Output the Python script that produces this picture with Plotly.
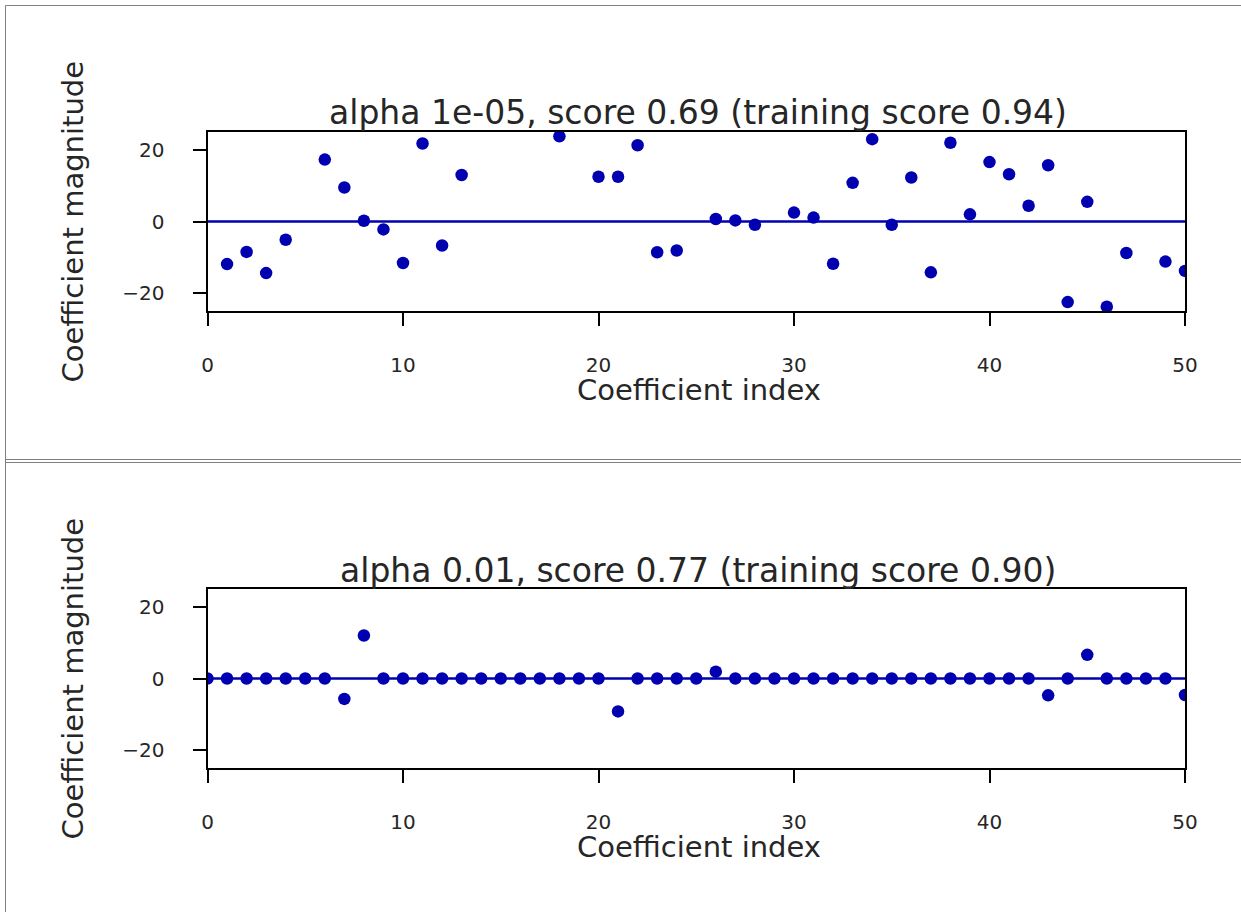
import plotly.graph_objects as go

# Coefficient index for each of the 51 fitted coefficients
coef_index = list(range(51))

# Lasso coefficients, alpha = 1e-05 (None = outside the plotted range)
coef_alpha_small = [None, -11.9, -8.5, -14.4, -5.1, None, 17.3, 9.5, 0.2, -2.2,
                    -11.6, 21.8, -6.7, 13.0, None, None, None, None, 23.8, None,
                    12.5, 12.5, 21.3, -8.6, -8.1, None, 0.7, 0.3, -0.9, None,
                    2.5, 1.1, -11.8, 10.8, 23.0, -0.9, 12.3, -14.2, 22.0, 2.0,
                    16.6, 13.2, 4.4, 15.7, -22.5, 5.5, -23.8, -8.8, None, -11.2,
                    -13.8]

# Lasso coefficients, alpha = 0.01
coef_alpha_large = [0, 0, 0, 0, 0, 0, 0, -5.7, 12.0, 0,
                    0, 0, 0, 0, 0, 0, 0, 0, 0, 0,
                    0, -9.2, 0, 0, 0, 0, 1.9, 0, 0, 0,
                    0, 0, 0, 0, 0, 0, 0, 0, 0, 0,
                    0, 0, 0, -4.7, 0, 6.6, 0, 0, 0, 0,
                    -4.6]

titles = ["alpha 1e-05, score 0.69 (training score 0.94)",
          "alpha 0.01, score 0.77 (training score 0.90)"]

x_ticks = [0, 10, 20, 30, 40, 50]
x_tick_labels = ["0", "10", "20", "30", "40", "50"]
y_ticks = [-20, 0, 20]
y_tick_labels = ["\u221220", "0", "20"]
x_range = [0, 50]
y_range = [-25, 25]

W, H = 1241, 912
BLUE = "#0000b0"
TEXT = "#262626"
FONT = "DejaVu Sans"
FRAME = "#808080"

fig = go.Figure()

# pixel geometry of the two panels
panels = [
    dict(top=132, bottom=311),
    dict(top=589, bottom=768),
]
x_left, x_right = 207.5, 1185


def px_x(v):
    return v / W


def px_y(v):
    return 1 - v / H


for i, (coefs, p) in enumerate(zip([coef_alpha_small, coef_alpha_large], panels)):
    sfx = "" if i == 0 else str(i + 1)
    xa, ya = "x" + sfx, "y" + sfx
    fig.add_trace(go.Scatter(x=x_range, y=[0, 0], mode="lines",
                             line=dict(color=BLUE, width=2.5),
                             xaxis=xa, yaxis=ya, showlegend=False,
                             hoverinfo="skip"))
    fig.add_trace(go.Scatter(x=coef_index, y=coefs, mode="markers",
                             marker=dict(color=BLUE, size=12.5, line=dict(width=0)),
                             xaxis=xa, yaxis=ya, showlegend=False,
                             cliponaxis=True))
    axis_common = dict(showline=True, linecolor="black", linewidth=2,
                       mirror=True, ticks="outside", ticklen=13, tickwidth=2,
                       tickcolor="black", showgrid=False, zeroline=False,
                       automargin=False,
                       tickfont=dict(family=FONT, size=20, color=TEXT))
    fig.update_layout(**{
        "xaxis" + sfx: dict(axis_common, domain=[px_x(x_left), px_x(x_right)],
                            range=x_range, tickvals=x_ticks,
                            ticktext=x_tick_labels, anchor=ya,
                            ticklabelstandoff=22),
        "yaxis" + sfx: dict(axis_common,
                            domain=[px_y(p["bottom"]), px_y(p["top"])],
                            range=y_range, tickvals=y_ticks,
                            ticktext=y_tick_labels, anchor=xa,
                            ticklabelstandoff=24),
    })
    cy = (p["top"] + p["bottom"]) / 2
    fig.add_annotation(text=titles[i], xref="paper", yref="paper",
                       x=px_x(698), y=px_y(p["top"] - 19), xanchor="center",
                       yanchor="middle", showarrow=False,
                       font=dict(family=FONT, size=33, color=TEXT))
    fig.add_annotation(text="Coefficient index", xref="paper", yref="paper",
                       x=px_x(699), y=px_y(p["bottom"] + 79), xanchor="center",
                       yanchor="middle", showarrow=False,
                       font=dict(family=FONT, size=29, color=TEXT))
    fig.add_annotation(text="Coefficient magnitude", xref="paper", yref="paper",
                       x=px_x(72), y=px_y(cy), xanchor="center",
                       yanchor="middle", showarrow=False, textangle=-90,
                       font=dict(family=FONT, size=29, color=TEXT))

# borders of the two output cells (left and top edges, plus the divider)
frame_lines = [
    (5.5, 5.5, 1241, 5.5),      # top edge
    (5.5, 5.5, 5.5, 912),       # left edge
    (5.5, 459.5, 1241, 459.5),  # bottom of first cell
    (5.5, 462.5, 1241, 462.5),  # top of second cell
]
for x0, y0, x1, y1 in frame_lines:
    fig.add_shape(type="line", xref="paper", yref="paper",
                  x0=px_x(x0), x1=px_x(x1), y0=px_y(y0), y1=px_y(y1),
                  line=dict(color=FRAME, width=1))

fig.update_layout(width=W, height=H, margin=dict(l=0, r=0, t=0, b=0, pad=0),
                  paper_bgcolor="white", plot_bgcolor="white",
                  font=dict(family=FONT, color=TEXT))

fig.write_html("out.html")
